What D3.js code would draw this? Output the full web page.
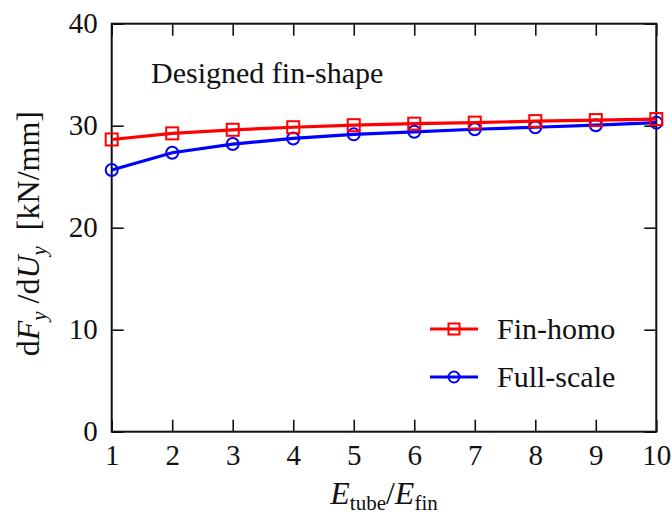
<!DOCTYPE html>
<html>
<head>
<meta charset="utf-8">
<script src="https://cdn.jsdelivr.net/npm/d3@7"></script>
</head>
<body style="margin:0">
<script>
// E_tube / E_fin ratios
const ratios = [1, 2, 3, 4, 5, 6, 7, 8, 9, 10];
// dFy/dUy [kN/mm]
const finHomo = [28.65, 29.25, 29.6, 29.85, 30.05, 30.2, 30.3, 30.45, 30.55, 30.65];
const fullScale = [25.65, 27.35, 28.2, 28.75, 29.15, 29.4, 29.65, 29.85, 30.05, 30.3];
const xTicks = [1, 2, 3, 4, 5, 6, 7, 8, 9, 10];
const yTicks = [0, 10, 20, 30, 40];

const FONT = 'Liberation Serif';

const width = 672, height = 515;
const margin = { top: 23.7, right: 15.7, bottom: 83.3, left: 111.7 };
const w = width - margin.left - margin.right;
const h = height - margin.top - margin.bottom;

const x = d3.scaleLinear().domain([1, 10]).range([0, w]);
const y = d3.scaleLinear().domain([0, 40]).range([h, 0]);

const svg = d3.select('body').append('svg')
  .attr('width', width)
  .attr('height', height)
  .attr('font-family', FONT);

const plot = svg.append('g')
  .attr('transform', `translate(${margin.left},${margin.top})`);

// inward ticks on all four sides
const tickLen = 12;
plot.append('g')
  .attr('transform', `translate(0,${h})`)
  .call(d3.axisBottom(x).tickValues(xTicks).tickSize(-tickLen).tickPadding(13).tickFormat(d3.format('d')))
  .call(g => g.select('.domain').remove());
plot.append('g')
  .call(d3.axisTop(x).tickValues(xTicks).tickSize(-tickLen).tickFormat(''))
  .call(g => g.select('.domain').remove());
plot.append('g')
  .call(d3.axisLeft(y).tickValues(yTicks).tickSize(-tickLen).tickPadding(14).tickFormat(d3.format('d')))
  .call(g => g.select('.domain').remove());
plot.append('g')
  .attr('transform', `translate(${w},0)`)
  .call(d3.axisRight(y).tickValues(yTicks).tickSize(-tickLen).tickFormat(''))
  .call(g => g.select('.domain').remove());

// drop the axis' own sans-serif font so the svg font applies
plot.selectAll('g').attr('font-family', null).attr('font-size', null);
plot.selectAll('.tick line').attr('stroke', '#111').attr('stroke-width', 1.6);
plot.selectAll('.tick text')
  .attr('font-family', FONT)
  .attr('font-size', 29)
  .attr('fill', '#111');

plot.append('rect')
  .attr('width', w).attr('height', h)
  .attr('fill', 'none')
  .attr('stroke', '#111')
  .attr('stroke-width', 2);

const series = [
  { name: 'Full-scale', values: fullScale, color: '#0000ff', marker: 'circle' },
  { name: 'Fin-homo', values: finHomo, color: '#ff0000', marker: 'square' }
];

const line = d3.line().x((d, i) => x(ratios[i])).y(d => y(d));

series.forEach(s => {
  const g = plot.append('g');
  g.append('path')
    .attr('d', line(s.values))
    .attr('fill', 'none')
    .attr('stroke', s.color)
    .attr('stroke-width', 3.2);
  if (s.marker === 'circle') {
    g.selectAll('circle').data(s.values).join('circle')
      .attr('cx', (d, i) => x(ratios[i]))
      .attr('cy', d => y(d))
      .attr('r', 6)
      .attr('fill', 'none')
      .attr('stroke', s.color)
      .attr('stroke-width', 2);
  } else {
    g.selectAll('rect').data(s.values).join('rect')
      .attr('x', (d, i) => x(ratios[i]) - 6)
      .attr('y', d => y(d) - 6)
      .attr('width', 12).attr('height', 12)
      .attr('fill', 'none')
      .attr('stroke', s.color)
      .attr('stroke-width', 2);
  }
});

// title inside plot
svg.append('text')
  .attr('x', 151).attr('y', 83)
  .attr('font-family', FONT)
  .attr('font-size', 30)
  .attr('fill', '#111')
  .text('Designed fin-shape');

// legend
const legend = svg.append('g');
const legendItems = [series[1], series[0]];
legendItems.forEach((s, i) => {
  const ly = 329 + i * 48;
  const g = legend.append('g').attr('transform', `translate(0,${ly})`);
  g.append('line')
    .attr('x1', 430).attr('x2', 478)
    .attr('stroke', s.color).attr('stroke-width', 3.2);
  if (s.marker === 'circle') {
    g.append('circle').attr('cx', 454).attr('r', 5.5)
      .attr('fill', 'none').attr('stroke', s.color).attr('stroke-width', 2);
  } else {
    g.append('rect').attr('x', 448.5).attr('y', -5.5).attr('width', 11).attr('height', 11)
      .attr('fill', 'none').attr('stroke', s.color).attr('stroke-width', 2);
  }
  g.append('text')
    .attr('x', 497).attr('y', 10)
    .attr('font-family', FONT)
    .attr('font-size', 30)
    .attr('fill', '#111')
    .text(s.name);
});

// x axis label: E_tube/E_fin
const xl = svg.append('text')
  .attr('x', margin.left + w / 2).attr('y', 504)
  .attr('text-anchor', 'middle')
  .attr('font-family', FONT)
  .attr('font-size', 32)
  .attr('fill', '#111');
xl.append('tspan').attr('font-style', 'italic').text('E');
xl.append('tspan').attr('font-size', 21).attr('dy', 6).text('tube');
xl.append('tspan').attr('dy', -6).text('/');
xl.append('tspan').attr('font-style', 'italic').text('E');
xl.append('tspan').attr('font-size', 21).attr('dy', 6).text('fin');

// y axis label: dF_y /dU_y [kN/mm]
const yl = svg.append('text')
  .attr('transform', `translate(39,${margin.top + h / 2 + 6}) rotate(-90)`)
  .attr('text-anchor', 'middle')
  .attr('font-family', FONT)
  .attr('font-size', 32)
  .attr('xml:space', 'preserve')
  .attr('fill', '#111');
yl.append('tspan').text('d');
yl.append('tspan').attr('font-style', 'italic').text('F');
yl.append('tspan').attr('font-style', 'italic').attr('font-size', 21).attr('dy', 7).text('y');
yl.append('tspan').attr('dy', -7).text(' /d');
yl.append('tspan').attr('font-style', 'italic').text('U');
yl.append('tspan').attr('font-style', 'italic').attr('font-size', 21).attr('dy', 7).text('y');
yl.append('tspan').attr('dy', -7).text('  [kN/mm]');
</script>
</body>
</html>
